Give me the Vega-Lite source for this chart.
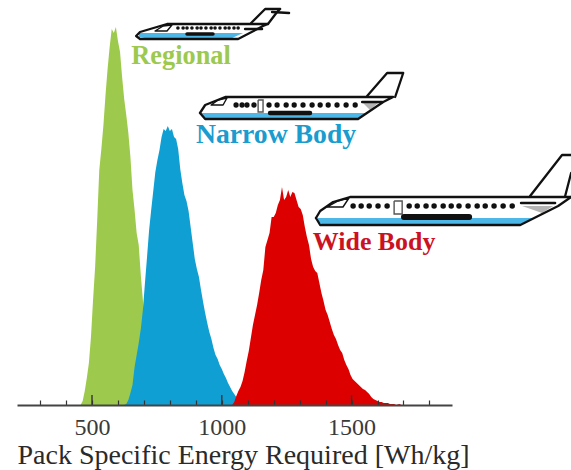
{"$schema":"https://vega.github.io/schema/vega-lite/v6.json","width":435,"height":405,"autosize":"none","padding":{"left":17,"top":0,"right":119,"bottom":65},"background":"white","config":{"view":{"stroke":null}},
"datasets":{
"hist":[
{"s":"Regional","x":456,"h":0},{"s":"Regional","x":464,"h":4},{"s":"Regional","x":472,"h":14},{"s":"Regional","x":480,"h":27},{"s":"Regional","x":488,"h":42},{"s":"Regional","x":496,"h":68},{"s":"Regional","x":504,"h":105},{"s":"Regional","x":512,"h":138},{"s":"Regional","x":520,"h":185},{"s":"Regional","x":528,"h":235},{"s":"Regional","x":536,"h":256},{"s":"Regional","x":544,"h":280},{"s":"Regional","x":552,"h":310},{"s":"Regional","x":560,"h":336},{"s":"Regional","x":568,"h":358},{"s":"Regional","x":576,"h":376},{"s":"Regional","x":584,"h":372},{"s":"Regional","x":592,"h":378},{"s":"Regional","x":600,"h":364},{"s":"Regional","x":608,"h":353},{"s":"Regional","x":616,"h":328},{"s":"Regional","x":624,"h":306},{"s":"Regional","x":632,"h":290},{"s":"Regional","x":640,"h":272},{"s":"Regional","x":648,"h":248},{"s":"Regional","x":656,"h":215},{"s":"Regional","x":664,"h":195},{"s":"Regional","x":672,"h":172},{"s":"Regional","x":680,"h":160},{"s":"Regional","x":688,"h":130},{"s":"Regional","x":696,"h":105},{"s":"Regional","x":704,"h":75},{"s":"Regional","x":712,"h":50},{"s":"Regional","x":720,"h":30},{"s":"Regional","x":728,"h":10},{"s":"Regional","x":736,"h":0},
{"s":"Narrow Body","x":624,"h":0},{"s":"Narrow Body","x":632,"h":1},{"s":"Narrow Body","x":640,"h":5},{"s":"Narrow Body","x":648,"h":12},{"s":"Narrow Body","x":656,"h":20},{"s":"Narrow Body","x":664,"h":38},{"s":"Narrow Body","x":672,"h":50},{"s":"Narrow Body","x":680,"h":62},{"s":"Narrow Body","x":688,"h":76},{"s":"Narrow Body","x":696,"h":95},{"s":"Narrow Body","x":704,"h":122},{"s":"Narrow Body","x":712,"h":148},{"s":"Narrow Body","x":720,"h":175},{"s":"Narrow Body","x":728,"h":195},{"s":"Narrow Body","x":736,"h":214},{"s":"Narrow Body","x":744,"h":233},{"s":"Narrow Body","x":752,"h":245},{"s":"Narrow Body","x":760,"h":255},{"s":"Narrow Body","x":768,"h":268},{"s":"Narrow Body","x":776,"h":276},{"s":"Narrow Body","x":784,"h":274},{"s":"Narrow Body","x":792,"h":279},{"s":"Narrow Body","x":800,"h":274},{"s":"Narrow Body","x":808,"h":276},{"s":"Narrow Body","x":816,"h":268},{"s":"Narrow Body","x":824,"h":266},{"s":"Narrow Body","x":832,"h":256},{"s":"Narrow Body","x":840,"h":236},{"s":"Narrow Body","x":848,"h":222},{"s":"Narrow Body","x":856,"h":210},{"s":"Narrow Body","x":864,"h":204},{"s":"Narrow Body","x":872,"h":194},{"s":"Narrow Body","x":880,"h":178},{"s":"Narrow Body","x":888,"h":162},{"s":"Narrow Body","x":896,"h":146},{"s":"Narrow Body","x":904,"h":136},{"s":"Narrow Body","x":912,"h":128},{"s":"Narrow Body","x":920,"h":115},{"s":"Narrow Body","x":928,"h":103},{"s":"Narrow Body","x":936,"h":92},{"s":"Narrow Body","x":944,"h":82},{"s":"Narrow Body","x":952,"h":73},{"s":"Narrow Body","x":960,"h":66},{"s":"Narrow Body","x":968,"h":57},{"s":"Narrow Body","x":976,"h":50},{"s":"Narrow Body","x":984,"h":46},{"s":"Narrow Body","x":992,"h":40},{"s":"Narrow Body","x":1000,"h":36},{"s":"Narrow Body","x":1008,"h":31},{"s":"Narrow Body","x":1016,"h":27},{"s":"Narrow Body","x":1024,"h":22},{"s":"Narrow Body","x":1032,"h":18},{"s":"Narrow Body","x":1040,"h":14},{"s":"Narrow Body","x":1048,"h":11},{"s":"Narrow Body","x":1056,"h":8},{"s":"Narrow Body","x":1064,"h":5},{"s":"Narrow Body","x":1072,"h":2},{"s":"Narrow Body","x":1080,"h":0},
{"s":"Wide Body","x":1040,"h":0},{"s":"Wide Body","x":1048,"h":3},{"s":"Wide Body","x":1056,"h":9},{"s":"Wide Body","x":1064,"h":14},{"s":"Wide Body","x":1072,"h":18},{"s":"Wide Body","x":1080,"h":24},{"s":"Wide Body","x":1088,"h":33},{"s":"Wide Body","x":1096,"h":44},{"s":"Wide Body","x":1104,"h":54},{"s":"Wide Body","x":1112,"h":67},{"s":"Wide Body","x":1120,"h":80},{"s":"Wide Body","x":1128,"h":90},{"s":"Wide Body","x":1136,"h":100},{"s":"Wide Body","x":1144,"h":112},{"s":"Wide Body","x":1152,"h":125},{"s":"Wide Body","x":1160,"h":135},{"s":"Wide Body","x":1168,"h":158},{"s":"Wide Body","x":1176,"h":165},{"s":"Wide Body","x":1184,"h":172},{"s":"Wide Body","x":1192,"h":188},{"s":"Wide Body","x":1200,"h":188},{"s":"Wide Body","x":1208,"h":192},{"s":"Wide Body","x":1216,"h":200},{"s":"Wide Body","x":1224,"h":205},{"s":"Wide Body","x":1232,"h":218},{"s":"Wide Body","x":1240,"h":205},{"s":"Wide Body","x":1248,"h":208},{"s":"Wide Body","x":1256,"h":215},{"s":"Wide Body","x":1264,"h":208},{"s":"Wide Body","x":1272,"h":213},{"s":"Wide Body","x":1280,"h":212},{"s":"Wide Body","x":1288,"h":205},{"s":"Wide Body","x":1296,"h":198},{"s":"Wide Body","x":1304,"h":196},{"s":"Wide Body","x":1312,"h":190},{"s":"Wide Body","x":1320,"h":178},{"s":"Wide Body","x":1328,"h":168},{"s":"Wide Body","x":1336,"h":160},{"s":"Wide Body","x":1344,"h":146},{"s":"Wide Body","x":1352,"h":138},{"s":"Wide Body","x":1360,"h":134},{"s":"Wide Body","x":1368,"h":132},{"s":"Wide Body","x":1376,"h":122},{"s":"Wide Body","x":1384,"h":112},{"s":"Wide Body","x":1392,"h":104},{"s":"Wide Body","x":1400,"h":95},{"s":"Wide Body","x":1408,"h":90},{"s":"Wide Body","x":1416,"h":83},{"s":"Wide Body","x":1424,"h":76},{"s":"Wide Body","x":1432,"h":70},{"s":"Wide Body","x":1440,"h":66},{"s":"Wide Body","x":1448,"h":60},{"s":"Wide Body","x":1456,"h":55},{"s":"Wide Body","x":1464,"h":52},{"s":"Wide Body","x":1472,"h":45},{"s":"Wide Body","x":1480,"h":40},{"s":"Wide Body","x":1488,"h":36},{"s":"Wide Body","x":1496,"h":30},{"s":"Wide Body","x":1504,"h":26},{"s":"Wide Body","x":1512,"h":24},{"s":"Wide Body","x":1520,"h":22},{"s":"Wide Body","x":1528,"h":20},{"s":"Wide Body","x":1536,"h":18},{"s":"Wide Body","x":1544,"h":16},{"s":"Wide Body","x":1552,"h":15},{"s":"Wide Body","x":1560,"h":13},{"s":"Wide Body","x":1568,"h":11},{"s":"Wide Body","x":1576,"h":8},{"s":"Wide Body","x":1584,"h":6},{"s":"Wide Body","x":1592,"h":5},{"s":"Wide Body","x":1600,"h":4},{"s":"Wide Body","x":1608,"h":3},{"s":"Wide Body","x":1616,"h":3},{"s":"Wide Body","x":1624,"h":2},{"s":"Wide Body","x":1632,"h":2},{"s":"Wide Body","x":1640,"h":2},{"s":"Wide Body","x":1648,"h":1},{"s":"Wide Body","x":1664,"h":1},{"s":"Wide Body","x":1672,"h":0},{"s":"Wide Body","x":1684,"h":1},{"s":"Wide Body","x":1692,"h":0}],
"belly":[
{"p":"W","x":1371,"h":187,"h2":183},{"p":"W","x":1386,"h":187,"h2":181},{"p":"W","x":2150,"h":187,"h2":181},{"p":"W","x":2200,"h":187,"h2":187},
{"p":"N","x":920,"h":292,"h2":290},{"p":"N","x":932,"h":292,"h2":287},{"p":"N","x":1525,"h":292,"h2":287},{"p":"N","x":1560,"h":292,"h2":292},
{"p":"R","x":681,"h":372,"h2":368},{"p":"R","x":704,"h":372,"h2":367},{"p":"R","x":1040,"h":372,"h2":367},{"p":"R","x":1082,"h":372,"h2":372}],
"grey":[
{"p":"W","x":2157,"h":199,"h2":199},{"p":"W","x":2234,"h":199,"h2":192},{"p":"W","x":2277,"h":199,"h2":199},
{"p":"N","x":1544,"h":302,"h2":302},{"p":"N","x":1571,"h":302,"h2":295},{"p":"N","x":1602,"h":302,"h2":302}],
"lines":[
{"part":"W body","k":"outline","i":1,"x":1363,"h":187},{"part":"W body","k":"outline","i":2,"x":1379,"h":194},{"part":"W body","k":"outline","i":3,"x":1429,"h":203},{"part":"W body","k":"outline","i":4,"x":1494,"h":208},{"part":"W body","k":"outline","i":5,"x":2346,"h":208},{"part":"W belly","k":"outline","i":1,"x":2346,"h":208},{"part":"W belly","k":"outline","i":2,"x":2296,"h":199},{"part":"W belly","k":"outline","i":3,"x":2150,"h":180},{"part":"W belly","k":"outline","i":4,"x":1379,"h":180},{"part":"W belly","k":"outline","i":5,"x":1363,"h":187},
{"part":"W tail1","k":"outline","i":1,"x":2188,"h":209},{"part":"W tail1","k":"outline","i":2,"x":2311,"h":250},{"part":"W tail1","k":"outline","i":3,"x":2346,"h":250},
{"part":"W tail2","k":"outline","i":1,"x":2323,"h":209},{"part":"W tail2","k":"outline","i":2,"x":2346,"h":232},
{"part":"W cockpit","k":"thin","i":1,"x":1406,"h":198},{"part":"W cockpit","k":"thin","i":2,"x":1448,"h":204},{"part":"W cockpit","k":"thin","i":3,"x":1490,"h":207},{"part":"W cockpit","k":"thin","i":4,"x":1467,"h":198},{"part":"W cockpit","k":"thin","i":5,"x":1406,"h":198},
{"part":"W stab","k":"stab","i":1,"x":2153,"h":202},{"part":"W stab","k":"stab","i":2,"x":2284,"h":202},
{"part":"W wing","k":"wing W","i":1,"x":1702,"h":188},{"part":"W wing","k":"wing W","i":2,"x":1953,"h":188},
{"part":"N body","k":"outline","i":1,"x":916,"h":292},{"part":"N body","k":"outline","i":2,"x":936,"h":300},{"part":"N body","k":"outline","i":3,"x":1013,"h":308},{"part":"N body","k":"outline","i":4,"x":1660,"h":308},{"part":"N body","k":"outline","i":5,"x":1622,"h":303},{"part":"N body","k":"outline","i":6,"x":1525,"h":286},{"part":"N body","k":"outline","i":7,"x":936,"h":286},{"part":"N body","k":"outline","i":8,"x":916,"h":292},
{"part":"N tail","k":"outline","i":1,"x":1560,"h":309},{"part":"N tail","k":"outline","i":2,"x":1637,"h":332},{"part":"N tail","k":"outline","i":3,"x":1699,"h":332},{"part":"N tail","k":"outline","i":4,"x":1668,"h":308},
{"part":"N cockpit","k":"thin","i":1,"x":959,"h":300},{"part":"N cockpit","k":"thin","i":2,"x":986,"h":305},{"part":"N cockpit","k":"thin","i":3,"x":1020,"h":307},{"part":"N cockpit","k":"thin","i":4,"x":1005,"h":300},{"part":"N cockpit","k":"thin","i":5,"x":959,"h":300},
{"part":"N stab","k":"stab","i":1,"x":1541,"h":303},{"part":"N stab","k":"stab","i":2,"x":1618,"h":303},
{"part":"N wing","k":"wing N","i":1,"x":1186,"h":292},{"part":"N wing","k":"wing N","i":2,"x":1340,"h":292},
{"part":"R body","k":"outline","i":1,"x":670,"h":369},{"part":"R body","k":"outline","i":2,"x":685,"h":373},{"part":"R body","k":"outline","i":3,"x":789,"h":381},{"part":"R body","k":"outline","i":4,"x":1178,"h":381},{"part":"R body","k":"outline","i":5,"x":1159,"h":379},{"part":"R body","k":"outline","i":6,"x":1063,"h":366},{"part":"R body","k":"outline","i":7,"x":685,"h":366},{"part":"R body","k":"outline","i":8,"x":670,"h":369},
{"part":"R tail","k":"outline","i":1,"x":1113,"h":382},{"part":"R tail","k":"outline","i":2,"x":1167,"h":396},{"part":"R tail","k":"outline","i":3,"x":1225,"h":396},{"part":"R tail","k":"outline","i":4,"x":1213,"h":393},{"part":"R tail","k":"outline","i":5,"x":1178,"h":381},
{"part":"R T","k":"stab","i":1,"x":1194,"h":393},{"part":"R T","k":"stab","i":2,"x":1259,"h":392},
{"part":"R cockpit","k":"thin","i":1,"x":743,"h":374},{"part":"R cockpit","k":"thin","i":2,"x":774,"h":379},{"part":"R cockpit","k":"thin","i":3,"x":808,"h":380},{"part":"R cockpit","k":"thin","i":4,"x":789,"h":374},{"part":"R cockpit","k":"thin","i":5,"x":743,"h":374},
{"part":"R stab","k":"stab","i":1,"x":1090,"h":376},{"part":"R stab","k":"stab","i":2,"x":1155,"h":376},
{"part":"R wing","k":"wing R","i":1,"x":866,"h":371},{"part":"R wing","k":"wing R","i":2,"x":966,"h":371}],
"doors":[
{"part":"W door","i":1,"x":1664,"h":204},{"part":"W door","i":2,"x":1695,"h":204},{"part":"W door","i":3,"x":1695,"h":191},{"part":"W door","i":4,"x":1664,"h":191},{"part":"W door","i":5,"x":1664,"h":204},
{"part":"N door","i":1,"x":1140,"h":305},{"part":"N door","i":2,"x":1159,"h":305},{"part":"N door","i":3,"x":1159,"h":293},{"part":"N door","i":4,"x":1140,"h":293},{"part":"N door","i":5,"x":1140,"h":305}],
"windows":[
{"p":"W","x":1506,"h":199},{"p":"W","x":1537,"h":199},{"p":"W","x":1568,"h":199},{"p":"W","x":1602,"h":199},{"p":"W","x":1637,"h":199},{"p":"W","x":1722,"h":199},{"p":"W","x":1753,"h":199},{"p":"W","x":1787,"h":199},{"p":"W","x":1818,"h":199},{"p":"W","x":1853,"h":199},{"p":"W","x":1884,"h":199},{"p":"W","x":1914,"h":199},{"p":"W","x":1949,"h":199},{"p":"W","x":1984,"h":199},{"p":"W","x":2015,"h":199},{"p":"W","x":2049,"h":199},{"p":"W","x":2084,"h":199},{"p":"W","x":2119,"h":199},
{"p":"N","x":1055,"h":300},{"p":"N","x":1078,"h":300},{"p":"N","x":1097,"h":300},{"p":"N","x":1124,"h":300},{"p":"N","x":1182,"h":300},{"p":"N","x":1213,"h":300},{"p":"N","x":1248,"h":300},{"p":"N","x":1279,"h":300},{"p":"N","x":1313,"h":300},{"p":"N","x":1348,"h":300},{"p":"N","x":1379,"h":300},{"p":"N","x":1410,"h":300},{"p":"N","x":1444,"h":300},{"p":"N","x":1479,"h":300},{"p":"N","x":1514,"h":300},
{"p":"R","x":831,"h":377},{"p":"R","x":851,"h":377},{"p":"R","x":866,"h":377},{"p":"R","x":885,"h":377},{"p":"R","x":905,"h":377},{"p":"R","x":920,"h":377},{"p":"R","x":939,"h":377},{"p":"R","x":959,"h":377},{"p":"R","x":974,"h":377},{"p":"R","x":993,"h":377},{"p":"R","x":1013,"h":377},{"p":"R","x":1028,"h":377},{"p":"R","x":1047,"h":377},{"p":"R","x":1063,"h":377}],
"names":[{"s":"Regional","x":843,"h":341},{"s":"Narrow Body","x":1209,"h":262},{"s":"Wide Body","x":1587,"h":155}],
"major":[{"x":500,"h":0,"h2":10},{"x":1000,"h":0,"h2":10},{"x":1500,"h":0,"h2":10}]
},
"encoding":{
"x":{"field":"x","type":"quantitative","scale":{"domain":[211,1887],"nice":false,"zero":false},
"axis":{"values":[300,400,500,600,700,800,900,1000,1100,1200,1300,1400,1500,1600,1700,1800],"labelExpr":"datum.value % 500 === 0 ? datum.label : ''","format":"d","labelOverlap":false,"labelFlush":false,"grid":false,"zindex":1,"title":"Pack Specific Energy Required [Wh/kg]","titleFont":"Liberation Serif","titleFontSize":28,"titleFontWeight":"normal","titleColor":"#2a2a2a","titleX":226,"titleY":58,"titleBaseline":"alphabetic","labelFont":"Liberation Serif","labelFontSize":24,"labelFontWeight":"normal","labelColor":"#3a3a3a","labelPadding":15,"tickSize":-5,"tickColor":"#333333","tickWidth":1.2,"domainColor":"#444444","domainWidth":1.8}},
"y":{"field":"h","type":"quantitative","scale":{"domain":[0,405],"nice":false,"zero":false},"axis":null,"stack":null}
},
"layer":[
{"data":{"name":"hist"},"mark":{"type":"area","interpolate":"linear"},
"encoding":{"color":{"field":"s","type":"nominal","legend":null,"scale":{"domain":["Regional","Narrow Body","Wide Body"],"range":["#9dca4c","#0f9fd3","#dc0000"]}}}},
{"data":{"name":"major"},"mark":{"type":"rule","color":"#333333","strokeWidth":1.4},"encoding":{"y2":{"field":"h2"}}},
{"data":{"name":"belly"},"mark":{"type":"area","color":"#4db8e8"},"encoding":{"y2":{"field":"h2"},"detail":{"field":"p"}}},
{"data":{"name":"grey"},"mark":{"type":"area","color":"#b5b5b5"},"encoding":{"y2":{"field":"h2"},"detail":{"field":"p"}}},
{"data":{"name":"doors"},"mark":{"type":"line","color":"#555555","strokeWidth":1.4},"encoding":{"detail":{"field":"part"},"order":{"field":"i","type":"quantitative"}}},
{"data":{"name":"lines"},"mark":{"type":"line","color":"#111111","strokeCap":"round","strokeJoin":"round"},
"encoding":{"detail":{"field":"part"},"order":{"field":"i","type":"quantitative"},
"strokeWidth":{"field":"k","type":"nominal","legend":null,"scale":{"type":"ordinal","domain":["outline","thin","stab","wing W","wing N","wing R"],"range":[2.3,1.4,2.5,6,4.5,3.5]}}}},
{"data":{"name":"windows"},"mark":{"type":"circle","color":"#111111","opacity":1},
"encoding":{"size":{"field":"p","type":"nominal","legend":null,"scale":{"type":"ordinal","domain":["W","N","R"],"range":[30,28,13]}}}},
{"data":{"name":"names"},"transform":[{"filter":"datum.s === 'Regional'"}],"mark":{"type":"text","font":"Liberation Serif","fontWeight":"bold","align":"center","baseline":"alphabetic","fontSize":26.3,"color":"#9cc94e"},"encoding":{"text":{"field":"s"}}},
{"data":{"name":"names"},"transform":[{"filter":"datum.s === 'Narrow Body'"}],"mark":{"type":"text","font":"Liberation Serif","fontWeight":"bold","align":"center","baseline":"alphabetic","fontSize":27.7,"color":"#1a9ccf"},"encoding":{"text":{"field":"s"}}},
{"data":{"name":"names"},"transform":[{"filter":"datum.s === 'Wide Body'"}],"mark":{"type":"text","font":"Liberation Serif","fontWeight":"bold","align":"center","baseline":"alphabetic","fontSize":25.9,"color":"#cc1122"},"encoding":{"text":{"field":"s"}}}
]}
